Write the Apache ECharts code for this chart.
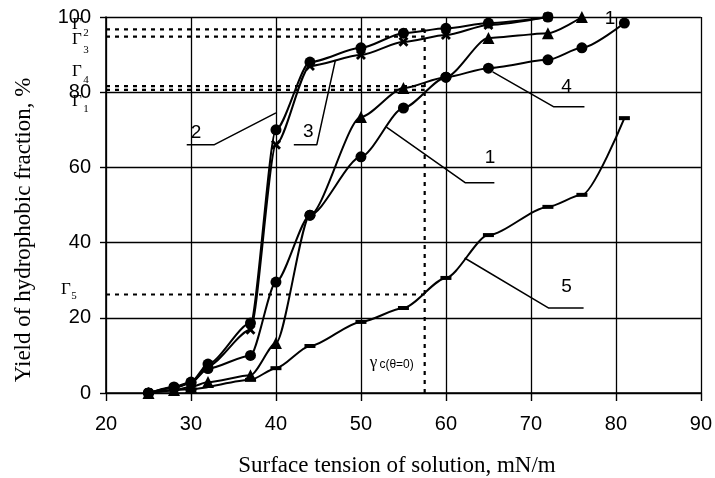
<!DOCTYPE html>
<html><head><meta charset="utf-8">
<script src="https://cdn.jsdelivr.net/npm/echarts@6/dist/echarts.min.js"></script>
<style>html,body{margin:0;padding:0;background:#fff}#c{width:715px;height:478px}</style>
</head><body><div id="c"></div>
<script>
// ---- data ----
const xMin = 20, xMax = 90, xStep = 10;
const yMin = 0, yMax = 100, yStep = 20;

const curve1X = [25, 28, 30, 32, 37, 40, 44, 50, 55, 60, 65, 72, 76];
const curve1Y = [0, 1.4, 2.7, 6.5, 10, 29.5, 47.3, 62.8, 75.8, 84, 94.4, 95.7, 100];

const curve2X = [25, 28, 30, 32, 37, 40, 44, 50, 55, 60, 65, 72];
const curve2Y = [0, 1.6, 2.9, 7.7, 18.6, 70, 88, 91.8, 95.7, 97, 98.4, 100];

const curve3X = [25, 28, 30, 32, 37, 40, 44, 50, 55, 60, 65, 72];
const curve3Y = [0, 1.4, 2.6, 7.2, 16.8, 66, 87, 89.9, 93.4, 95.2, 97.9, 100];

const curve4X = [25, 28, 30, 32, 37, 40, 44, 50, 55, 60, 65, 72, 76, 81];
const curve4Y = [0, 0.8, 1.6, 2.9, 4.7, 13.3, 47.3, 73.4, 81.1, 84, 86.4, 88.6, 91.8, 98.4];

const curve5X = [25, 30, 37, 40, 44, 50, 55, 60, 65, 72, 76, 81];
const curve5Y = [0, 1, 3.5, 6.6, 12.5, 18.9, 22.6, 30.6, 42, 49.5, 52.7, 73.1];

// critical surface tension and Γ levels
const gammaC = 57.5;
const gammaTop = 96.7;
const gammaNames = ['2', '3', '4', '1', '5'];
const gammaValues = [96.7, 94.8, 81.6, 80.6, 26.2];

// curve label leaders (data coordinates)
const leader2 = [[29.5, 66], [32.7, 66], [40, 74.5]];
const leader3 = [[42.1, 66], [44.8, 66], [47.0, 88.6]];
const leader1 = [[53.0, 70.7], [62.3, 55.9], [65.7, 55.9]];
const leader4 = [[65.5, 85.4], [72.7, 76.1], [76.3, 76.1]];
const leader5 = [[62.2, 35.9], [72.1, 22.6], [76.2, 22.6]];
const curveLabelText = ['2', '3', '1', '4', '5', '1'];
const curveLabelPos = [[30.6, 69.2], [43.8, 69.4], [65.2, 62.6], [74.2, 81.4], [74.2, 28.3], [79.3, 99.6]];

// ---- chart ----
const zip = (xs, ys) => xs.map((x, i) => [x, ys[i]]);
const chart = echarts.init(document.getElementById('c'), null, {renderer: 'canvas'});
const black = '#000';
const crossPath = 'path://M0,2 L2,0 L5,3 L8,0 L10,2 L7,5 L10,8 L8,10 L5,7 L2,10 L0,8 L3,5 Z';

function curve(name, data, symbol, size) {
  return {
    name, type: 'line', data, smooth: 0.25, smoothMonotone: 'x',
    symbol, symbolSize: size, showSymbol: true,
    lineStyle: {color: black, width: 2},
    itemStyle: {color: black, borderColor: black, borderWidth: 0},
    z: 5, silent: true
  };
}
function annot(data, dashed, width) {
  return {
    type: 'line', data, symbol: 'none', silent: true, smooth: false,
    lineStyle: {color: black, width: width, type: dashed ? [4, 5] : 'solid'}, z: 3
  };
}

const series = [
  curve('1', zip(curve1X, curve1Y), v => v[0] > 60 ? 'triangle' : 'circle', v => v[0] > 60 ? 12 : 11),
  curve('2', zip(curve2X, curve2Y), 'circle', 11),
  curve('3', zip(curve3X, curve3Y), crossPath, 10),
  curve('4', zip(curve4X, curve4Y), v => (v[0] > 57 || v[0] === 44) ? 'circle' : 'triangle', v => (v[0] > 57 || v[0] === 44) ? 11 : 12),
  curve('5', zip(curve5X, curve5Y), 'rect', [11, 4])
];
gammaValues.forEach(v => series.push(annot([[xMin, v], [gammaC, v]], true, 2.2)));
series.push(annot([[gammaC, yMin], [gammaC, gammaTop]], true, 2.2));
[leader1, leader2, leader3, leader4, leader5].forEach(l => series.push(annot(l, false, 1.5)));

chart.setOption({
  animation: false,
  backgroundColor: '#fff',
  grid: {left: 106, right: 10, top: 17, bottom: 85, containLabel: false},
  xAxis: {
    type: 'value', min: xMin, max: xMax, interval: xStep,
    axisLine: {show: true, onZero: false, lineStyle: {color: black, width: 1.6}},
    axisTick: {show: true, inside: false, length: 8, lineStyle: {color: black, width: 1.4}},
    axisLabel: {color: black, fontSize: 20, fontFamily: 'Liberation Sans', margin: 21},
    splitLine: {show: true, lineStyle: {color: black, width: 1.3}}
  },
  yAxis: {
    type: 'value', min: yMin, max: yMax, interval: yStep,
    axisLine: {show: true, onZero: false, lineStyle: {color: black, width: 1.6}},
    axisTick: {show: true, inside: false, length: 6, lineStyle: {color: black, width: 1.4}},
    axisLabel: {color: black, fontSize: 20, fontFamily: 'Liberation Sans', margin: 15},
    splitLine: {show: true, lineStyle: {color: black, width: 1.3}}
  },
  series
});

// text annotations
const px = p => chart.convertToPixel({gridIndex: 0}, p);
const graphics = [];
curveLabelText.forEach((t, i) => {
  const p = px(curveLabelPos[i]);
  graphics.push({type: 'text', x: p[0], y: p[1], z: 10,
    style: {text: t, fill: black, font: '19px "Liberation Sans"', align: 'center', verticalAlign: 'middle'}});
});
// Γ labels
const gPos = {'2': [77, 25, 86, 33], '3': [77, 40, 86, 50], '4': [77, 72, 86, 80], '1': [77, 102, 86, 109], '5': [66, 290, 74, 296]};
gammaNames.forEach(n => {
  const g = gPos[n];
  graphics.push({type: 'text', x: g[0], y: g[1], z: 10,
    style: {text: 'Γ', fill: black, font: '17px "Liberation Serif"', align: 'center', verticalAlign: 'middle'}});
  graphics.push({type: 'text', x: g[2], y: g[3], z: 10,
    style: {text: n, fill: black, font: '11px "Liberation Serif"', align: 'center', verticalAlign: 'middle'}});
});
// γc label
const gc = px([gammaC - 6.5, 8]);
graphics.push({type: 'text', x: gc[0] + 4, y: gc[1], z: 10,
  style: {text: 'γ', fill: black, font: '17px "Liberation Serif"', align: 'center', verticalAlign: 'middle'}});
graphics.push({type: 'text', x: gc[0] + 10, y: gc[1] + 2, z: 10,
  style: {text: 'c(θ=0)', fill: black, font: '12px "Liberation Sans"', align: 'left', verticalAlign: 'middle'}});
// axis titles
graphics.push({type: 'text', x: 397, y: 466, z: 10,
  style: {text: 'Surface tension of solution, mN/m', fill: black, font: '23px "Liberation Serif"', align: 'center', verticalAlign: 'middle'}});
graphics.push({type: 'text', x: 24, y: 230, rotation: Math.PI / 2, z: 10,
  style: {text: 'Yield of hydrophobic fraction, %', fill: black, font: '23px "Liberation Serif"', align: 'center', verticalAlign: 'middle'}});
chart.setOption({graphic: graphics});
</script></body></html>
